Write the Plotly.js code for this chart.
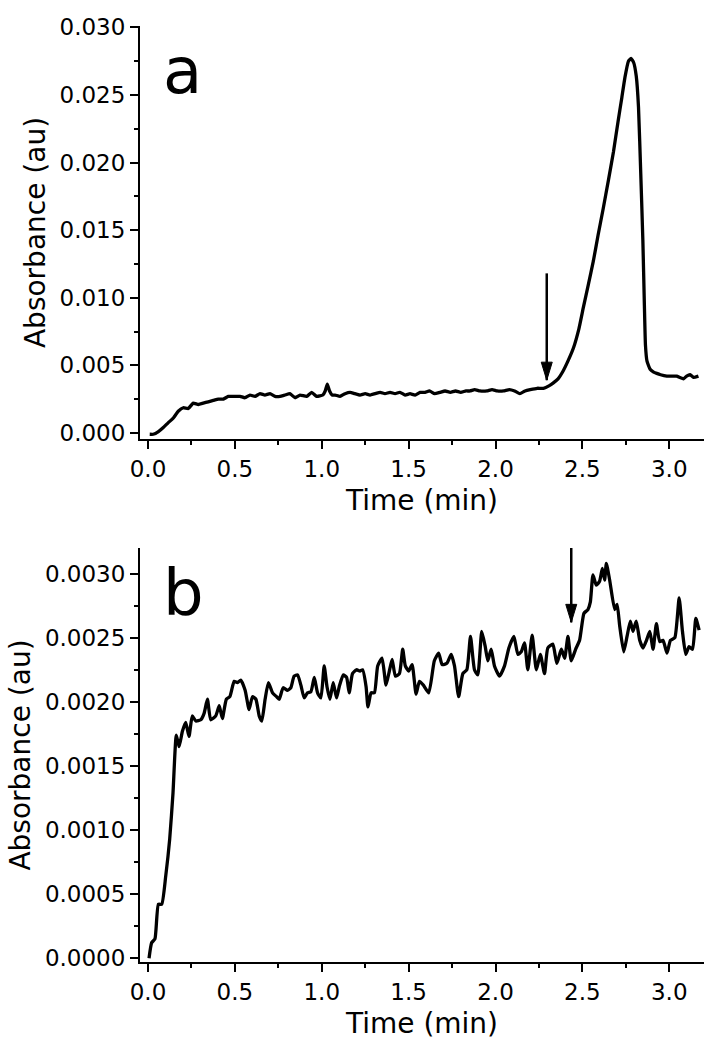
<!DOCTYPE html>
<html>
<head>
<meta charset="utf-8">
<script src="https://cdn.plot.ly/plotly-3.0.1.min.js"></script>
<style>html,body{margin:0;padding:0;background:#fff;}#chart{width:712px;height:1050px;}</style>
</head>
<body>
<div id="chart"></div>
<script>
// Panel a data
const timeA = [0.01,0.03,0.06,0.088,0.117,0.146,0.174,0.203,0.232,0.26,0.29,0.318,0.347,0.376,0.405,0.434,0.462,0.49,0.53,0.558,0.587,0.616,0.645,0.673,0.702,0.731,0.76,0.788,0.817,0.846,0.875,0.913,0.942,0.971,1.006,1.02,1.032,1.045,1.06,1.077,1.105,1.134,1.163,1.19,1.22,1.25,1.278,1.307,1.336,1.364,1.393,1.422,1.45,1.48,1.508,1.537,1.566,1.595,1.62,1.65,1.68,1.71,1.74,1.77,1.8,1.83,1.854,1.88,1.91,1.95,1.98,2.01,2.046,2.08,2.11,2.14,2.17,2.2,2.24,2.276,2.31,2.333,2.36,2.39,2.42,2.449,2.48,2.506,2.535,2.563,2.59,2.62,2.65,2.679,2.705,2.727,2.745,2.765,2.78,2.795,2.81,2.823,2.836,2.848,2.857,2.863,2.872,2.89,2.91,2.928,2.95,2.986,3.01,3.043,3.06,3.082,3.1,3.12,3.14,3.168];
const absA = [-0.0001,-0.0001,0.0001,0.0004,0.00076,0.0011,0.0016,0.00186,0.0018,0.0022,0.0021,0.0022,0.0023,0.0024,0.0025,0.0025,0.0027,0.0027,0.0027,0.0026,0.0028,0.0027,0.0029,0.0028,0.0029,0.0027,0.0027,0.0028,0.0029,0.0026,0.0028,0.0027,0.0030,0.0027,0.0028,0.0031,0.0036,0.0031,0.0028,0.0028,0.0027,0.0029,0.0030,0.0029,0.0028,0.0029,0.0028,0.0029,0.0030,0.0029,0.0030,0.0029,0.0030,0.0028,0.0029,0.0028,0.0030,0.0030,0.0031,0.0029,0.0030,0.0031,0.0030,0.0031,0.0030,0.0031,0.0031,0.0032,0.0031,0.0031,0.0032,0.0031,0.0031,0.0032,0.0031,0.0029,0.0031,0.0032,0.0033,0.0033,0.0035,0.0037,0.0040,0.0046,0.0054,0.0063,0.0077,0.0093,0.0110,0.0127,0.0146,0.0166,0.0187,0.0208,0.0230,0.0248,0.0263,0.0275,0.0277,0.0274,0.0264,0.0241,0.0192,0.0143,0.0094,0.0065,0.0053,0.0047,0.0045,0.0044,0.0043,0.0042,0.0042,0.0042,0.0041,0.0040,0.0042,0.0043,0.0041,0.0042];

// Panel b data
const timeB = [0.006,0.021,0.04,0.06,0.079,0.102,0.125,0.144,0.163,0.179,0.198,0.217,0.236,0.255,0.275,0.304,0.323,0.342,0.361,0.39,0.41,0.428,0.451,0.471,0.496,0.515,0.534,0.559,0.582,0.601,0.621,0.64,0.655,0.674,0.693,0.717,0.74,0.755,0.778,0.803,0.822,0.841,0.861,0.88,0.899,0.918,0.938,0.957,0.976,0.995,1.014,1.03,1.047,1.066,1.085,1.101,1.124,1.143,1.158,1.177,1.2,1.22,1.235,1.255,1.266,1.284,1.303,1.322,1.347,1.37,1.389,1.405,1.424,1.447,1.466,1.481,1.5,1.52,1.543,1.562,1.585,1.616,1.648,1.673,1.693,1.72,1.745,1.764,1.788,1.812,1.835,1.856,1.879,1.898,1.921,1.941,1.956,1.975,1.994,2.023,2.052,2.077,2.106,2.129,2.148,2.167,2.186,2.211,2.235,2.258,2.282,2.301,2.33,2.353,2.379,2.398,2.417,2.436,2.461,2.484,2.509,2.532,2.546,2.561,2.58,2.599,2.615,2.628,2.638,2.657,2.686,2.7,2.715,2.738,2.757,2.776,2.791,2.81,2.83,2.849,2.869,2.888,2.907,2.926,2.945,2.964,2.987,3.007,3.032,3.057,3.076,3.095,3.114,3.134,3.153,3.172];
const absB = [0.0000,0.00012,0.00015,0.00042,0.00042,0.00064,0.00093,0.00129,0.00174,0.00165,0.00177,0.00184,0.00173,0.00189,0.00185,0.00186,0.00191,0.00202,0.00186,0.00189,0.00197,0.00187,0.00202,0.00204,0.00216,0.00215,0.00217,0.00209,0.00194,0.00204,0.00202,0.00189,0.00185,0.00202,0.00215,0.00207,0.00204,0.00202,0.00211,0.00209,0.00211,0.0022,0.00221,0.00213,0.00203,0.00207,0.00208,0.00219,0.00207,0.00203,0.00228,0.00212,0.00202,0.00215,0.00203,0.00212,0.00221,0.00219,0.00207,0.00222,0.00225,0.00224,0.00225,0.00212,0.00196,0.00207,0.00207,0.00228,0.00234,0.00213,0.00224,0.00233,0.0022,0.00222,0.00241,0.00228,0.00224,0.00229,0.00206,0.00216,0.00213,0.00207,0.00232,0.00238,0.00229,0.0023,0.00237,0.00228,0.00204,0.00222,0.00225,0.00251,0.00225,0.00221,0.00255,0.00243,0.00232,0.00241,0.00228,0.0022,0.00228,0.00242,0.00251,0.00237,0.00239,0.00246,0.00225,0.00252,0.00225,0.00237,0.00222,0.00242,0.00245,0.0023,0.00241,0.00234,0.00251,0.00232,0.00241,0.00248,0.00269,0.00272,0.00278,0.00299,0.00291,0.00294,0.00304,0.00295,0.00308,0.00295,0.00272,0.00276,0.00259,0.00239,0.00251,0.00263,0.00255,0.00263,0.00248,0.00242,0.00248,0.00255,0.00241,0.00261,0.00247,0.00248,0.00238,0.00248,0.0025,0.00281,0.00255,0.00237,0.00243,0.00241,0.00265,0.00256];

// Arrow markers (time, top value, tip value)
const arrowA = {t: 2.295, top: 0.0118, tip: 0.0039};
const arrowB = {t: 2.436, top: 0.0032, tip: 0.00262};

const panelLabels = ['a', 'b'];
const xTitle = 'Time (min)';
const yTitle = 'Absorbance (au)';

const FONT = 'DejaVu Sans, Arial, sans-serif';
const INK = '#000000';

function xAxis(anchor) {
  return {
    anchor: anchor, range: [-0.046, 3.2], tick0: 0, dtick: 0.5, tickformat: '.1f',
    showgrid: false, zeroline: false, showline: true, linecolor: INK, linewidth: 2,
    ticks: 'outside', ticklen: 8, tickwidth: 2, tickcolor: INK,
    minor: {dtick: 0.25, ticks: 'outside', ticklen: 4, tickwidth: 2, tickcolor: INK},
    tickfont: {family: FONT, size: 23, color: INK},
    title: {text: xTitle, font: {family: FONT, size: 28, color: INK}, standoff: 10}
  };
}
function yAxis(anchor, range, dtick, minorDtick, fmt, domain) {
  return {
    anchor: anchor, domain: domain, range: range, tick0: 0, dtick: dtick, tickformat: fmt,
    showgrid: false, zeroline: false, showline: true, linecolor: INK, linewidth: 2,
    ticks: 'outside', ticklen: 8, tickwidth: 2, tickcolor: INK,
    minor: {dtick: minorDtick, ticks: 'outside', ticklen: 4, tickwidth: 2, tickcolor: INK},
    tickfont: {family: FONT, size: 23, color: INK},
    title: {text: yTitle, font: {family: FONT, size: 28, color: INK}, standoff: 6}
  };
}

const traces = [
  {x: timeA, y: absA, xaxis: 'x', yaxis: 'y', mode: 'lines', line: {color: INK, width: 3.3, shape: 'spline', smoothing: 0.4}, showlegend: false, hoverinfo: 'skip'},
  {x: timeB, y: absB, xaxis: 'x2', yaxis: 'y2', mode: 'lines', line: {color: INK, width: 3.3, shape: 'spline', smoothing: 0.5}, showlegend: false, hoverinfo: 'skip'}
];

function arrowShapes(a, xr, yr) {
  return [
    {type: 'line', xref: xr, yref: yr, x0: a.t, x1: a.t, y0: a.top, y1: a.tip, line: {color: INK, width: 2.5}},
    {type: 'path', xref: xr, yref: yr, xsizemode: 'pixel', ysizemode: 'pixel', xanchor: a.t, yanchor: a.tip,
     path: 'M0,0 L-5.5,18 L5.5,18 Z', fillcolor: INK, line: {color: INK, width: 1}}
  ];
}

const layout = {
  width: 712, height: 1050,
  margin: {l: 140, r: 8, t: 26, b: 88},
  paper_bgcolor: '#fff', plot_bgcolor: '#fff',
  showlegend: false,
  xaxis: xAxis('y'),
  yaxis: yAxis('x', [-0.00045, 0.0301], 0.005, 0.0025, '.3f', [0.5588, 1]),
  xaxis2: xAxis('y2'),
  yaxis2: yAxis('x2', [-0.00003, 0.0032], 0.0005, 0.00025, '.4f', [0, 0.4423]),
  shapes: arrowShapes(arrowA, 'x', 'y').concat(arrowShapes(arrowB, 'x2', 'y2')),
  annotations: [
    {text: panelLabels[0], xref: 'paper', yref: 'y domain', x: 0.038, y: 0.985, xanchor: 'left', yanchor: 'top', showarrow: false, font: {family: FONT, size: 64, color: INK}},
    {text: panelLabels[1], xref: 'paper', yref: 'y2 domain', x: 0.038, y: 0.985, xanchor: 'left', yanchor: 'top', showarrow: false, font: {family: FONT, size: 64, color: INK}}
  ]
};

Plotly.newPlot('chart', traces, layout, {staticPlot: true, displayModeBar: false});
</script>
</body>
</html>
